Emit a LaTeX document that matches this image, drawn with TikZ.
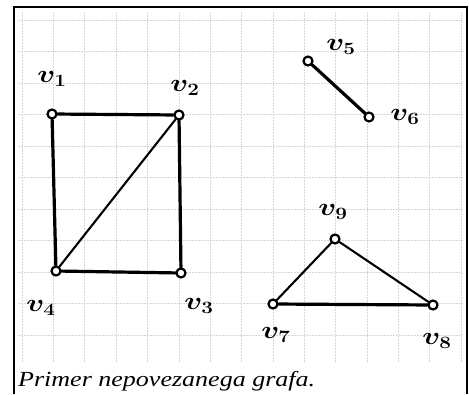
\documentclass[tikz,border=0pt]{standalone}
\usepackage{fontspec}
\setmainfont{Liberation Serif}
\usetikzlibrary{positioning}

\begin{document}
\begin{tikzpicture}[
  x=1pt, y=-1pt,
  gridline/.style = {black!16, line width=0.5pt, dash pattern=on 2pt off 1pt},
  frame/.style = {line width=1.8pt},
  vertex/.style = {draw, circle, fill=white, line width=2.2pt, inner sep=0pt, minimum size=9pt},
  edge/.style = {line width=3.2pt, line cap=round},
  thinedge/.style = {line width=2.1pt, line cap=round},
  lbl/.style = {inner sep=0pt, font=\fontsize{25}{25}\selectfont\boldmath},
  caption/.style = {anchor=base west, inner sep=0pt, font=\fontsize{21.5}{24}\selectfont\itshape}
]
\useasboundingbox (0,0) rectangle (469,394);

% Grid paper
\foreach \i in {0,...,14} {
  \draw[gridline] (22+\i*31.35,12) -- (22+\i*31.35,363);
}
\foreach \j in {0,...,10} {
  \draw[gridline] (18,20+\j*31.5) -- (463,20+\j*31.5);
}

% Frame
\draw[frame] (14,394) -- (14,7) -- (467,7) -- (467,394);

% Nodes
\node[vertex] (v1) at (52,114) {};
\node[vertex] (v2) at (179,115) {};
\node[vertex] (v3) at (181,273) {};
\node[vertex] (v4) at (56,271) {};
\node[vertex] (v5) at (308,61) {};
\node[vertex] (v6) at (369,117) {};
\node[vertex] (v9) at (335,239) {};
\node[vertex] (v7) at (273,304) {};
\node[vertex] (v8) at (433,305) {};

% Labels
\node[lbl] (l1) at (52,79) {\scalebox{1.2}[1]{$v_1$}};
\node[lbl] (l2) at (185,88) {\scalebox{1.2}[1]{$v_2$}};
\node[lbl] (l3) at (199,306) {\scalebox{1.2}[1]{$v_3$}};
\node[lbl] (l4) at (41,308) {\scalebox{1.2}[1]{$v_4$}};
\node[lbl] (l5) at (341,47) {\scalebox{1.2}[1]{$v_5$}};
\node[lbl] (l6) at (405,117) {\scalebox{1.2}[1]{$v_6$}};
\node[lbl] (l9) at (333,212) {\scalebox{1.2}[1]{$v_9$}};
\node[lbl] (l7) at (276,335) {\scalebox{1.2}[1]{$v_7$}};
\node[lbl] (l8) at (437,341) {\scalebox{1.2}[1]{$v_8$}};

% Connections
\draw[edge] (v1) -- (v2) -- (v3) -- (v4) -- (v1);
\draw[thinedge] (v2) -- (v4);
\draw[edge] (v5) -- (v6);
\draw[thinedge] (v7) -- (v9);
\draw[thinedge] (v9) -- (v8);
\draw[edge] (v7) -- (v8);

% Caption
\node[caption] (cap) at (18,386.7) {\scalebox{1.21}[1]{Primer nepovezanega grafa.}};

\end{tikzpicture}
\end{document}
